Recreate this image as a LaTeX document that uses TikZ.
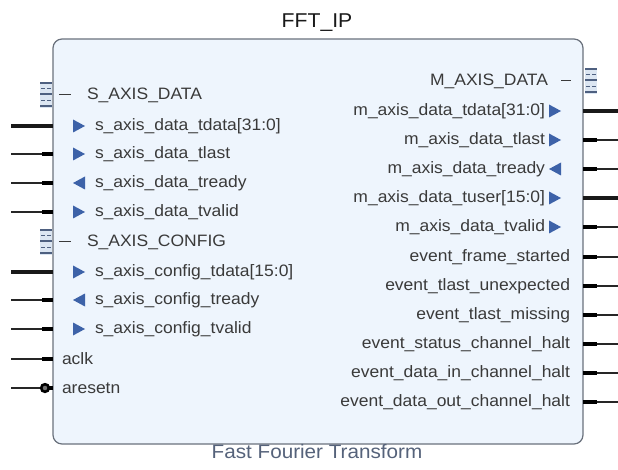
\documentclass[tikz,border=0pt]{standalone}
\usepackage{fontspec}
\usetikzlibrary{calc}
\setmainfont{Liberation Sans}[FakeStretch=1.06]
\definecolor{blockfill}{HTML}{EEF5FD}
\definecolor{blockline}{HTML}{6A717C}
\definecolor{labelcol}{HTML}{3A3A3A}
\definecolor{tricol}{HTML}{3D62A8}
\definecolor{buscol}{HTML}{4E6080}
\definecolor{busbg}{HTML}{DCE6F2}
\definecolor{captioncol}{HTML}{55627A}
\newcommand\trir[2]{\fill[tricol] (#1,#2) ++(0,-6.5) -- ++(12,6.5) -- ++(-12,6.5) -- cycle;}
\newcommand\tril[2]{\fill[tricol] (#1,#2) ++(12,-6.5) -- ++(-12,6.5) -- ++(12,6.5) -- cycle;}
\newcommand\busicon[2]{%
  \fill[busbg] (#1,#2) ++(0,-13) rectangle ++(12,26);
  \foreach \dy in {-12,-1,11} \draw[buscol,line width=1.6pt] (#1,#2) ++(0,\dy) -- ++(12,0);
  \foreach \dy in {-6.5,5.5} {
    \draw[buscol,line width=1.4pt] (#1,#2) ++(1,\dy) -- ++(4,0);
    \draw[buscol,line width=1.4pt] (#1,#2) ++(7,\dy) -- ++(4,0);}}
\begin{document}
\begin{tikzpicture}[x=1pt,y=-1pt,
  lbl/.style={font=\fontsize{16.5}{18}\selectfont, text=labelcol, inner sep=0pt, outer sep=0pt},
  wire/.style={draw=black!85, line width=1.1pt},
  buswire/.style={draw=black!90, line width=3.4pt},
  stub/.style={draw=black, line width=3.2pt},
  headdash/.style={draw=labelcol, line width=1pt}]
\useasboundingbox (0,0) rectangle (618,470);

% block body
\node[draw=blockline, fill=blockfill, line width=1.2pt, rounded corners=9pt,
  minimum width=530pt, minimum height=405pt, inner sep=0pt, outer sep=0pt,
  anchor=north west] (ip) at (53,39) {};
\node[font=\fontsize{20}{22}\selectfont, text=black!90] (title) at (317,23) {FFT\_IP};
\node[font=\fontsize{19.5}{22}\selectfont, text=captioncol] (caption) at (317,452) {Fast Fourier Transform};

% slave interfaces (left)
\busicon{40}{95}
\busicon{40}{242}
\draw[headdash] (59,95) -- (71,95);
\draw[headdash] (59,242) -- (71,242);
\node[lbl, anchor=west] (sdata) at (87,95) {S\_AXIS\_DATA};
\node[lbl, anchor=west] (sconf) at (87,242) {S\_AXIS\_CONFIG};

\node[lbl, anchor=west] (l1) at (95,126) {s\_axis\_data\_tdata[31:0]};
\node[lbl, anchor=west] (l2) at (95,154) {s\_axis\_data\_tlast};
\node[lbl, anchor=west] (l3) at (95,183) {s\_axis\_data\_tready};
\node[lbl, anchor=west] (l4) at (95,212) {s\_axis\_data\_tvalid};
\node[lbl, anchor=west] (l5) at (95,272) {s\_axis\_config\_tdata[15:0]};
\node[lbl, anchor=west] (l6) at (95,300) {s\_axis\_config\_tready};
\node[lbl, anchor=west] (l7) at (95,329) {s\_axis\_config\_tvalid};
\node[lbl, anchor=west] (l8) at (62,359) {aclk};
\node[lbl, anchor=west] (l9) at (62,388) {aresetn};

\trir{73}{126}
\trir{73}{154}
\tril{73}{183}
\trir{73}{212}
\trir{73}{272}
\tril{73}{300}
\trir{73}{329}

% left pins
\foreach \n in {l1,l5} {
  \coordinate (e\n) at (11,0 |- \n);
  \draw[buswire] (e\n) -- (e\n -| ip.west);}
\foreach \n in {l2,l3,l4,l6,l7,l8,l9} {
  \coordinate (e\n) at (11,0 |- \n);
  \draw[wire] (e\n) -- (e\n -| ip.west);}
\foreach \n in {l2,l3,l4,l6,l7,l8} {
  \draw[stub] ($(e\n -| ip.west)+(-11,0)$) -- (e\n -| ip.west);}
\draw[stub] ($(el9 -| ip.west)+(-5,0)$) -- (el9 -| ip.west);
\draw[black, line width=2.6pt, fill=black!55] ($(el9 -| ip.west)+(-8,0)$) circle (3.8pt);

% master interface and events (right)
\busicon{585}{81}
\draw[headdash] (561,81) -- (571,81);
\node[lbl, anchor=east] (mdata) at (548,81) {M\_AXIS\_DATA};

\node[lbl, anchor=east] (r1) at (545,111) {m\_axis\_data\_tdata[31:0]};
\node[lbl, anchor=east] (r2) at (545,140) {m\_axis\_data\_tlast};
\node[lbl, anchor=east] (r3) at (545,169) {m\_axis\_data\_tready};
\node[lbl, anchor=east] (r4) at (545,198) {m\_axis\_data\_tuser[15:0]};
\node[lbl, anchor=east] (r5) at (545,227) {m\_axis\_data\_tvalid};
\node[lbl, anchor=east] (r6) at (570,257) {event\_frame\_started};
\node[lbl, anchor=east] (r7) at (570,286) {event\_tlast\_unexpected};
\node[lbl, anchor=east] (r8) at (570,315) {event\_tlast\_missing};
\node[lbl, anchor=east] (r9) at (570,344) {event\_status\_channel\_halt};
\node[lbl, anchor=east] (r10) at (570,373) {event\_data\_in\_channel\_halt};
\node[lbl, anchor=east] (r11) at (570,402) {event\_data\_out\_channel\_halt};

\trir{549}{111}
\trir{549}{140}
\tril{549}{169}
\trir{549}{198}
\trir{549}{227}

% right pins
\foreach \n in {r1,r4} {
  \coordinate (e\n) at (618,0 |- \n);
  \draw[buswire] (\n -| ip.east) -- (e\n);}
\foreach \n in {r2,r3,r5,r6,r7,r8,r9,r10,r11} {
  \coordinate (e\n) at (618,0 |- \n);
  \draw[wire] (\n -| ip.east) -- (e\n);
  \draw[stub] (\n -| ip.east) -- ++(14,0);}
\end{tikzpicture}
\end{document}
